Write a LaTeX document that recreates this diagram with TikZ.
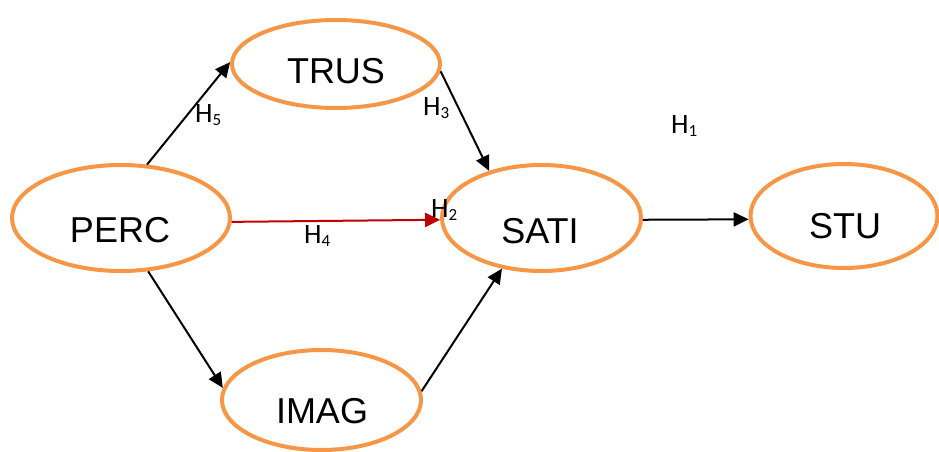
\documentclass[tikz,border=0pt]{standalone}
\usepackage{fontspec}
\setmainfont{Liberation Sans}
\newfontfamily\hfont{Carlito}
\usetikzlibrary{shapes.geometric,arrows.meta}
\definecolor{ellorange}{HTML}{F79646}
\definecolor{arrred}{HTML}{C00000}
\newcommand\Hsub[1]{{\hfont H\raisebox{-3.5pt}{\fontsize{17}{17}\selectfont #1}}}
\tikzset{
  ell/.style={draw=ellorange, line width=4pt, ellipse, inner sep=0pt},
  nodetext/.style={font=\fontsize{36}{36}\selectfont, anchor=base, inner sep=0pt},
  hlabel/.style={font=\fontsize{28}{28}\selectfont, anchor=base west, inner sep=0pt},
  conn/.style={line width=2pt, -{Triangle[length=15pt,width=14pt]}},
}
\begin{document}
\begin{tikzpicture}[x=1pt,y=-1pt]
\useasboundingbox (0,0) rectangle (939,452);
% ellipses
\node[ell, minimum width=218pt, minimum height=106pt] (perc) at (121,218) {};
\node[ell, minimum width=208pt, minimum height=88pt] (trus) at (336,64) {};
\node[ell, minimum width=199pt, minimum height=106pt] (sati) at (541.5,218) {};
\node[ell, minimum width=187pt, minimum height=104pt] (stu) at (844,216) {};
\node[ell, minimum width=199pt, minimum height=100pt] (imag) at (321.5,400) {};
% texts
\node[nodetext] (percT) at (120,242) {PERC};
\node[nodetext] (trusT) at (336,83) {TRUS};
\node[nodetext] (satiT) at (540,243) {SATI};
\node[nodetext] (stuT) at (845,238) {STU};
\node[nodetext] (imagT) at (322,423) {IMAG};
% connectors
\draw[conn] (perc.64) -- (trus.179);
\draw[conn] (trus.-4.3) -- (sati.138.7);
\draw[conn, draw=arrred, fill=arrred] (perc.-2) -- (sati.181.7);
\draw[conn] (perc.-63) -- (imag.173.7);
\draw[conn] (imag.5.6) -- (sati.232.6);
\draw[conn] (sati.-1) -- (stu.182.4);
% hypothesis labels
\node[hlabel] (h5) at (195,122) {\Hsub{5}};
\node[hlabel] (h3) at (423,115) {\Hsub{3}};
\node[hlabel] (h1) at (671,133) {\Hsub{1}};
\node[hlabel] (h2) at (431,217) {\Hsub{2}};
\node[hlabel] (h4) at (304,243) {\Hsub{4}};
\end{tikzpicture}
\end{document}
